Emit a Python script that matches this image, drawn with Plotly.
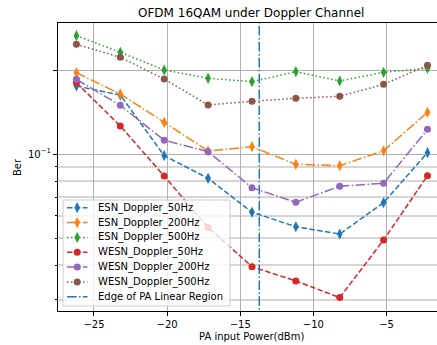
import plotly.graph_objects as go

# PA input power sweep (dBm)
power_dbm = [-26.2, -23.2, -20.2, -17.2, -14.2, -11.2, -8.2, -5.2, -2.2]

# Bit error rates per receiver / Doppler spread
esn_50 = [0.1754, 0.1628, 0.0987, 0.0819, 0.0619, 0.0549, 0.0517, 0.0670, 0.1012]
esn_200 = [0.1957, 0.1642, 0.1300, 0.1026, 0.1063, 0.0919, 0.0909, 0.1028, 0.1412]
esn_500 = [0.2657, 0.2317, 0.2001, 0.1869, 0.1818, 0.1974, 0.1828, 0.1964, 0.2030]
wesn_50 = [0.1803, 0.1261, 0.0834, 0.0546, 0.0395, 0.0351, 0.0306, 0.0492, 0.0837]
wesn_200 = [0.1853, 0.1496, 0.1121, 0.1020, 0.0758, 0.0672, 0.0767, 0.0786, 0.1227]
wesn_500 = [0.2474, 0.2223, 0.1858, 0.1500, 0.1546, 0.1585, 0.1611, 0.1779, 0.2081]

pa_linear_edge = -13.7

series_names = ["ESN_Doppler_50Hz", "ESN_Doppler_200Hz", "ESN_Doppler_500Hz",
                "WESN_Doppler_50Hz", "WESN_Doppler_200Hz", "WESN_Doppler_500Hz"]
edge_name = "Edge of PA Linear Region"

x_ticks = [-25, -20, -15, -10, -5]
y_major = [0.1, 0.2]
y_major_text = ["10<sup>\u22121</sup>", ""]
y_minor = [0.03, 0.04, 0.05, 0.06, 0.07, 0.08, 0.09]

x_range = [-27.46, -1.55]
y_range = [-1.5624, -0.5301]

FONT = "DejaVu Sans"
DASHED = "5.5px,2.4px"
DASHDOT = "9.6px,2.4px,1.5px,2.4px"
DOTTED = "1.5px,2.5px"

# figure geometry (pixels)
W, H = 437, 345
ML, MR, MT, MB = 58, 0, 23, 34
PW, PH = W - ML - MR, H - MT - MB


def px_x(px):
    return (px - ML) / PW


def px_y(py):
    return (H - MB - py) / PH


styles = [
    ("#1f77b4", DASHED, "diamond-tall", 8),
    ("#ff7f0e", DASHDOT, "diamond-tall", 8),
    ("#2ca02c", DOTTED, "diamond-tall", 8),
    ("#d62728", DASHED, "circle", 7),
    ("#9467bd", DASHDOT, "circle", 7),
    ("#8c564b", DOTTED, "circle", 7),
]
edge_style = ("#1f77b4", DASHDOT, None, 0)

fig = go.Figure()
for name, ys, (color, dash, sym, size) in zip(
        series_names, [esn_50, esn_200, esn_500, wesn_50, wesn_200, wesn_500], styles):
    fig.add_trace(go.Scatter(
        x=power_dbm, y=ys, name=name, mode="lines+markers", showlegend=False,
        line=dict(color=color, dash=dash, width=1.5),
        marker=dict(symbol=sym, size=size, color=color, line=dict(width=0)),
    ))

# vertical marker for the PA linear region boundary
fig.add_trace(go.Scatter(
    x=[pa_linear_edge, pa_linear_edge], y=[0.01, 1.0], name=edge_name, mode="lines",
    showlegend=False, line=dict(color="#1f77b4", dash=DASHDOT, width=1.5),
))

# compact legend box (matplotlib-like spacing)
shapes = []
annotations = []
box_l, box_r, box_t, box_b = 63, 230, 200, 306
shapes.append(dict(type="rect", xref="paper", yref="paper",
                   x0=px_x(box_l), x1=px_x(box_r), y0=px_y(box_b), y1=px_y(box_t),
                   fillcolor="rgba(255,255,255,0.8)", line=dict(color="#cccccc", width=1),
                   layer="above"))
row_y0, row_step = 207.7, 14.85
for i, (label, (color, dash, sym, size)) in enumerate(
        zip(series_names + [edge_name], styles + [edge_style])):
    yy = px_y(row_y0 + i * row_step)
    shapes.append(dict(type="line", xref="paper", yref="paper",
                       x0=px_x(67), x1=px_x(87.5), y0=yy, y1=yy,
                       line=dict(color=color, dash=dash, width=1.5), layer="above"))
    if sym == "circle":
        r = size / 2
        shapes.append(dict(type="circle", xref="paper", yref="paper",
                           xsizemode="pixel", ysizemode="pixel",
                           xanchor=px_x(77.2), yanchor=yy,
                           x0=-r, x1=r, y0=-r, y1=r,
                           fillcolor=color, line=dict(width=0), layer="above"))
    elif sym == "diamond-tall":
        hw, hh = 0.35 * size, 0.7 * size
        shapes.append(dict(type="path", xref="paper", yref="paper",
                           xsizemode="pixel", ysizemode="pixel",
                           xanchor=px_x(77.2), yanchor=yy,
                           path=f"M0,{hh} L{hw},0 L0,{-hh} L{-hw},0 Z",
                           fillcolor=color, line=dict(width=0), layer="above"))
    annotations.append(dict(text=label, xref="paper", yref="paper",
                            x=px_x(96), y=yy, showarrow=False,
                            xanchor="left", yanchor="middle",
                            font=dict(family=FONT, size=10, color="#000000")))

annotations += [
    dict(text="OFDM 16QAM under Doppler Channel", xref="paper", yref="paper",
         x=px_x(251), y=1, yshift=10, showarrow=False,
         xanchor="center", yanchor="middle", font=dict(size=12)),
    dict(text="PA input Power(dBm)", xref="paper", yref="paper",
         x=px_x(251), y=0, yshift=-25, showarrow=False,
         xanchor="center", yanchor="middle", font=dict(size=10)),
    dict(text="Ber", xref="paper", yref="paper", textangle=-90,
         x=0, xshift=-41, y=0.5, showarrow=False,
         xanchor="center", yanchor="middle", font=dict(size=10)),
]

fig.update_layout(
    width=W, height=H,
    margin=dict(l=ML, r=MR, t=MT, b=MB),
    paper_bgcolor="white", plot_bgcolor="white",
    font=dict(family=FONT, size=10, color="#000000"),
    showlegend=False,
    shapes=shapes,
    annotations=annotations,
)

fig.update_xaxes(
    range=x_range, tickvals=x_ticks, ticktext=[f"\u2212{abs(v)}" for v in x_ticks],
    showgrid=True, gridcolor="#b0b0b0", gridwidth=1,
    showline=True, linecolor="#000000", linewidth=1, mirror=True,
    ticks="outside", ticklen=4, tickcolor="#000000", zeroline=False,
)
fig.update_yaxes(
    type="log", range=y_range, tickvals=y_major, ticktext=y_major_text,
    showgrid=True, gridcolor="#b0b0b0", gridwidth=1,
    showline=True, linecolor="#000000", linewidth=1, mirror=False,
    ticks="outside", ticklen=4, tickcolor="#000000", zeroline=False,
    minor=dict(tickvals=y_minor, ticks="outside", ticklen=2, tickcolor="#000000",
               showgrid=True, gridcolor="#d6d6d6", gridwidth=1.5),
)

fig.write_html("out.html")
